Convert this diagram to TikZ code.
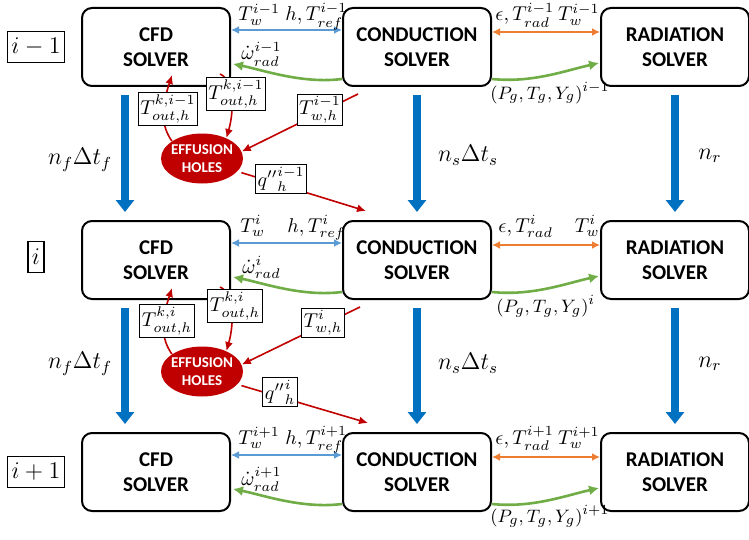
\documentclass[tikz,border=0pt]{standalone}
\usepackage{fontspec}
\usepackage{amsmath}
\newfontfamily\solverfont{Carlito}
\usetikzlibrary{calc,arrows.meta,shapes.geometric}
\definecolor{flowblue}{RGB}{0,112,192}
\definecolor{wallblue}{RGB}{91,155,213}
\definecolor{radorange}{RGB}{237,125,49}
\definecolor{gasgreen}{RGB}{112,173,71}
\definecolor{holered}{RGB}{192,0,0}

\begin{document}
\begin{tikzpicture}[x=0.5pt,y=-0.5pt,
  solver/.style={draw,line width=1pt,rounded corners=5pt,minimum width=74pt,minimum height=39pt,align=center,font=\solverfont\bfseries\fontsize{10.5}{12.5}\selectfont},
  holes/.style={ellipse,fill=holered,text=white,minimum width=41pt,minimum height=25pt,inner sep=-2.5pt,align=center,font=\solverfont\bfseries\fontsize{7.5}{9}\selectfont},
  rowtag/.style={draw,line width=0.6pt,inner xsep=2pt,inner ysep=0pt,minimum height=15.5pt,font=\large},
  tag/.style={draw,line width=0.5pt,fill=white,inner sep=1pt},
  lbl/.style={inner sep=0pt,anchor=base west},
  gaslbl/.style={lbl,font=\fontsize{9.5}{11}\selectfont},
  advance/.style={flowblue,line width=4pt,-{Triangle[width=9pt,length=6pt]}},
  wallx/.style={wallblue,line width=1pt,{Latex[length=4pt,width=4pt]}-{Latex[length=4pt,width=4pt]}},
  radx/.style={radorange,line width=1pt,{Latex[length=4pt,width=4pt]}-{Latex[length=4pt,width=4pt]}},
  gasx/.style={gasgreen,line width=1.3pt,-{Latex[length=5pt,width=5pt]}},
  holex/.style={holered,line width=0.8pt,-{Latex[length=4.5pt,width=4pt]}}]
\useasboundingbox (0,0) rectangle (749,540);

% solvers, three coupling steps
\node[solver] (cfdA) at (156,47) {CFD\\SOLVER};
\node[solver] (condA) at (417,47) {CONDUCTION\\SOLVER};
\node[solver] (radA) at (675,47) {RADIATION\\SOLVER};
\node[solver] (cfdB) at (156,260) {CFD\\SOLVER};
\node[solver] (condB) at (417,260) {CONDUCTION\\SOLVER};
\node[solver] (radB) at (675,260) {RADIATION\\SOLVER};
\node[solver] (cfdC) at (156,472) {CFD\\SOLVER};
\node[solver] (condC) at (417,472) {CONDUCTION\\SOLVER};
\node[solver] (radC) at (675,472) {RADIATION\\SOLVER};

\node[rowtag] (rowA) at (36,47) {$i-1$};
\node[rowtag] (rowB) at (36,257) {$i$};
\node[rowtag] (rowC) at (36,472) {$i+1$};

\node[holes] (holesA) at (202,158.5) {EFFUSION\\HOLES};
\node[holes] (holesB) at (202,371.5) {EFFUSION\\HOLES};

% time advance
\draw[advance] ($(cfdA.south)+(-31,8)$) -- ($(cfdB.north)+(-31,-8)$);
\draw[advance] ($(condA.south)+(0,8)$) -- ($(condB.north)+(0,-8)$);
\draw[advance] ($(radA.south)+(0,8)$) -- ($(radB.north)+(0,-8)$);
\draw[advance] ($(cfdB.south)+(-31,8)$) -- ($(cfdC.north)+(-31,-8)$);
\draw[advance] ($(condB.south)+(0,8)$) -- ($(condC.north)+(0,-8)$);
\draw[advance] ($(radB.south)+(0,8)$) -- ($(radC.north)+(0,-8)$);
\node[font=\large] (nfA) at (80,160) {$n_f\Delta t_f$};
\node[font=\large] (nsA) at (468,155) {$n_s\Delta t_s$};
\node[font=\large] (nrA) at (710,156) {$n_r$};
\node[font=\large] (nfB) at (80,364) {$n_f\Delta t_f$};
\node[font=\large] (nsB) at (468,363) {$n_s\Delta t_s$};
\node[font=\large] (nrB) at (710,364) {$n_r$};

% step i-1
\draw[wallx] ($(cfdA.east)+(0,-17)$) -- ($(condA.west)+(0,-17)$);
\draw[radx] ($(condA.east)+(0,-15)$) -- ($(radA.west)+(0,-15)$);
\draw[gasx] ($(condA.west)+(0,32)$) .. controls +(-40,5) and +(30,6) .. ($(cfdA.east)+(2,17)$);
\draw[gasx] ($(condA.east)+(0,32)$) .. controls +(40,4) and +(-35,8) .. ($(radA.west)+(-1,16)$);
\node[lbl] (twA) at (238,21) {$T^{i-1}_w$};
\node[lbl] (hA) at (285,21) {$h,T^{i-1}_{ref}$};
\node[lbl] (epsA) at (495,21) {$\epsilon,T^{i-1}_{rad}$};
\node[lbl,anchor=base east] (twrA) at (600,21) {$T^{i-1}_w$};
\node[lbl] (omA) at (241,60) {$\dot{\omega}^{i-1}_{rad}$};
\node[gaslbl] (pgA) at (490,99) {$(P_g,T_g,Y_g)^{i-1}$};

\draw[holex] (holesA.150) .. controls +(-14,-20) and +(-8,25) .. ($(cfdA.south)+(16,-12)$);
\draw[holex] ($(cfdA.south)+(64,-13)$) .. controls +(14,6) and +(8,-28) .. (holesA.40);
\draw[holex] ($(condA.south west)+(16,7)$) -- (holesA.10);
\draw[holex,shorten <=2pt] (holesA.-20) -- ($(condB.north west)+(24,-9)$);
\node[tag] (outupA) at (168,109) {$T^{k,i-1}_{out,h}$};
\node[tag] (outdnA) at (236,94) {$T^{k,i-1}_{out,h}$};
\node[tag] (twhA) at (320,110) {$T^{i-1}_{w,h}$};
\node[tag] (qA) at (281,179) {$q{''}^{i-1}_{h}$};

% step i
\draw[wallx] ($(cfdB.east)+(0,-17)$) -- ($(condB.west)+(0,-17)$);
\draw[radx] ($(condB.east)+(0,-15)$) -- ($(radB.west)+(0,-15)$);
\draw[gasx] ($(condB.west)+(0,32)$) .. controls +(-40,5) and +(30,6) .. ($(cfdB.east)+(2,17)$);
\draw[gasx] ($(condB.east)+(0,32)$) .. controls +(40,4) and +(-35,8) .. ($(radB.west)+(-1,16)$);
\node[lbl] (twB) at (240,232) {$T^{i}_w$};
\node[lbl] (hB) at (287,232) {$h,T^{i}_{ref}$};
\node[lbl] (epsB) at (498,232) {$\epsilon,T^{i}_{rad}$};
\node[lbl,anchor=base east] (twrB) at (600,232) {$T^{i}_w$};
\node[lbl] (omB) at (242,273) {$\dot{\omega}^{i}_{rad}$};
\node[gaslbl] (pgB) at (496,312) {$(P_g,T_g,Y_g)^{i}$};

\draw[holex] (holesB.150) .. controls +(-14,-20) and +(-8,25) .. ($(cfdB.south)+(16,-12)$);
\draw[holex] ($(cfdB.south)+(64,-13)$) .. controls +(14,6) and +(8,-28) .. (holesB.40);
\draw[holex] ($(condB.south west)+(18,7)$) -- (holesB.10);
\draw[holex,shorten <=2pt] (holesB.-20) -- ($(condC.north west)+(26,-9)$);
\node[tag] (outupB) at (167,321) {$T^{k,i}_{out,h}$};
\node[tag] (outdnB) at (235,306) {$T^{k,i}_{out,h}$};
\node[tag] (twhB) at (323,323) {$T^{i}_{w,h}$};
\node[tag] (qB) at (280,392) {$q{''}^{i}_{h}$};

% step i+1
\draw[wallx] ($(cfdC.east)+(0,-17)$) -- ($(condC.west)+(0,-17)$);
\draw[radx] ($(condC.east)+(0,-15)$) -- ($(radC.west)+(0,-15)$);
\draw[gasx] ($(condC.west)+(0,32)$) .. controls +(-40,5) and +(30,6) .. ($(cfdC.east)+(2,17)$);
\draw[gasx] ($(condC.east)+(0,32)$) .. controls +(40,4) and +(-35,8) .. ($(radC.west)+(-1,16)$);
\node[lbl] (twC) at (238,444) {$T^{i+1}_w$};
\node[lbl] (hC) at (285,444) {$h,T^{i+1}_{ref}$};
\node[lbl] (epsC) at (495,444) {$\epsilon,T^{i+1}_{rad}$};
\node[lbl,anchor=base east] (twrC) at (600,444) {$T^{i+1}_w$};
\node[lbl] (omC) at (241,485) {$\dot{\omega}^{i+1}_{rad}$};
\node[gaslbl] (pgC) at (490,522) {$(P_g,T_g,Y_g)^{i+1}$};
\end{tikzpicture}
\end{document}
